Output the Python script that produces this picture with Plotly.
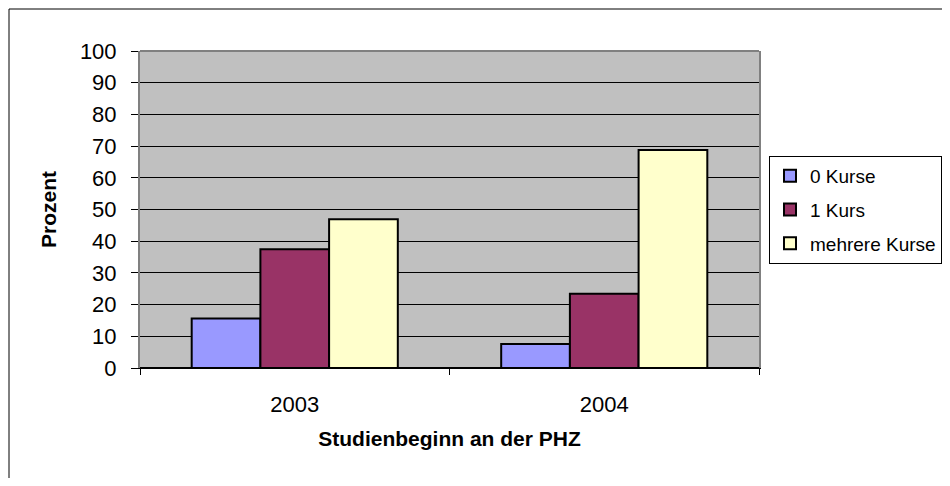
import plotly.graph_objects as go

years = ["2003", "2004"]
series_names = ["0 Kurse", "1 Kurs", "mehrere Kurse"]
kurse_0 = [15.6, 7.6]
kurs_1 = [37.5, 23.4]
mehrere = [46.9, 68.8]
colors = ["#9999FF", "#993366", "#FFFFCC"]
y_ticks = list(range(0, 101, 10))

FONT = "Liberation Sans, Arial, sans-serif"

fig = go.Figure()
for i, (name, vals) in enumerate(zip(series_names, [kurse_0, kurs_1, mehrere])):
    fig.add_trace(go.Bar(
        x=years, y=vals, name=name, legendgroup=f"g{i}",
        marker=dict(color=colors[i], line=dict(color="black", width=2)),
    ))

# page body has an 8px default margin; work in page coordinates and offset
OFF = 8
L, R, T, B = 140 - OFF, 759 - OFF, 51 - OFF, 368 - OFF
W, H = 950 - 2 * OFF, 486 - 2 * OFF

fig.update_layout(
    width=W, height=H,
    margin=dict(l=L, r=W - R, t=T, b=H - B, pad=0, autoexpand=False),
    paper_bgcolor="white",
    plot_bgcolor="#C0C0C0",
    barmode="group",
    bargap=0.334,
    bargroupgap=0,
    font=dict(family=FONT, color="black", size=22),
    showlegend=True,
    legend=dict(
        x=(769 - OFF - L) / (R - L), xanchor="left",
        y=(B - (156 - OFF)) / (B - T), yanchor="top",
        bgcolor="white", bordercolor="black", borderwidth=1,
        font=dict(size=19, family=FONT),
        traceorder="grouped", tracegroupgap=6,
        itemwidth=30,
        itemclick=False,
    ),
    xaxis=dict(
        type="category",
        showgrid=False,
        showline=True, linecolor="black", linewidth=1,
        ticks="outside", ticklen=6, tickcolor="black",
        tickson="boundaries",
        ticklabelstandoff=17,
        tickfont=dict(size=22),
        title=dict(text="<b>Studienbeginn an der PHZ</b>", font=dict(size=21), standoff=14),
    ),
    yaxis=dict(
        range=[0, 100],
        tickvals=y_ticks,
        showgrid=True, gridcolor="black", gridwidth=1,
        showline=True, linecolor="#808080", linewidth=2, mirror=True,
        ticks="outside", ticklen=7, tickcolor="black",
        ticklabelstandoff=10,
        tickfont=dict(size=22),
        zeroline=False,
        title=dict(text="<b>Prozent</b>", font=dict(size=21), standoff=18),
    ),
    shapes=[
        dict(type="line", xref="paper", yref="paper", x0=0, x1=1, y0=1, y1=1,
             line=dict(color="#808080", width=2)),
        dict(type="line", xref="paper", yref="paper", x0=0, x1=1, y0=0, y1=0,
             line=dict(color="black", width=2)),
        dict(type="rect", xref="paper", yref="paper",
             x0=(9 - OFF - L) / (R - L), x1=3, y0=-2, y1=(B - (9 - OFF)) / (B - T),
             line=dict(color="black", width=1), fillcolor="rgba(0,0,0,0)", layer="below"),
    ],
)

fig.write_html("out.html")
